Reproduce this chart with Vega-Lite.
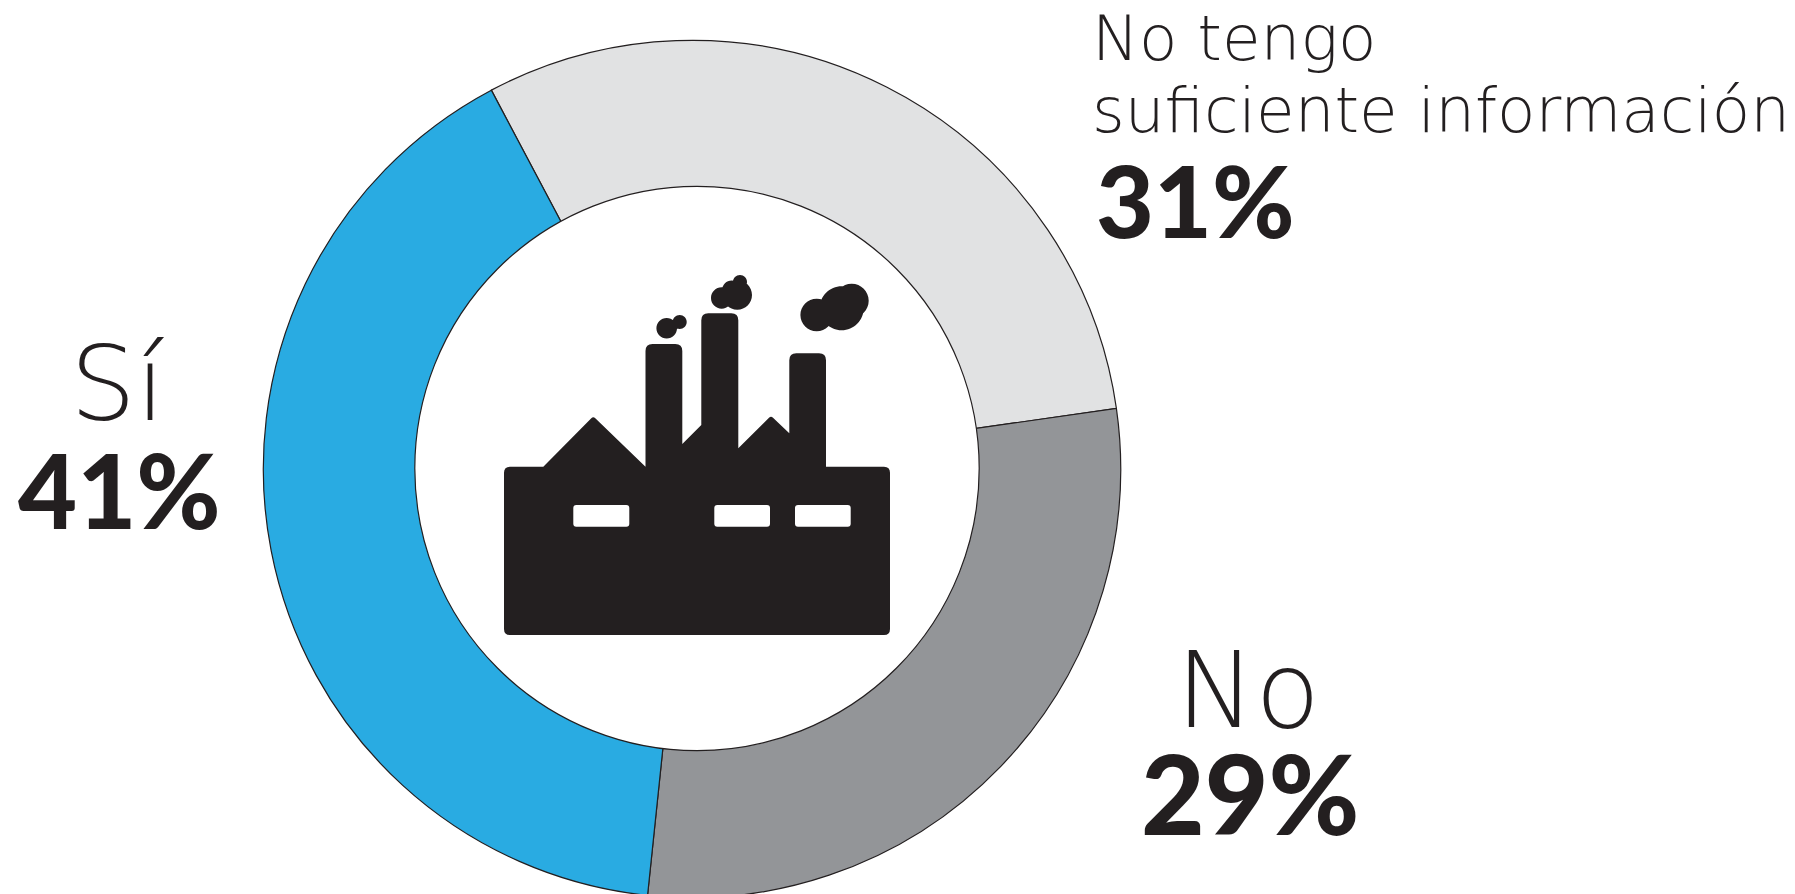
{"$schema":"https://vega.github.io/schema/vega-lite/v6.json","width":1795,"height":894,"autosize":"none","padding":0,"background":"white","config":{"view":{"stroke":null},"axis":{"disable":true}},"datasets":{"respuestas":[{"categoria":"No tengo suficiente información","etiqueta":"No tengo\nsuficiente información","valor":30.8,"porcentaje":"31%","orden":1},{"categoria":"No","etiqueta":"No","valor":29.2,"porcentaje":"29%","orden":2},{"categoria":"Sí","etiqueta":"Sí","valor":41,"porcentaje":"41%","orden":3}],"centro":[{"elemento":"fabrica"}]},"layer":[{"data":{"name":"respuestas"},"mark":{"type":"arc","outerRadius":428.7,"innerRadius":0,"stroke":"#231f20","strokeWidth":1.2},"encoding":{"x":{"value":692},"y":{"value":469},"theta":{"field":"valor","type":"quantitative","stack":true,"scale":{"range":[-0.487,5.796]}},"order":{"field":"orden","type":"quantitative"},"color":{"field":"categoria","type":"nominal","legend":null,"scale":{"domain":["No tengo suficiente información","No","Sí"],"range":["#e1e2e3","#939598","#29abe2"]}}}},{"data":{"name":"centro"},"mark":{"type":"point","shape":"circle","filled":true,"fill":"white","fillOpacity":1,"stroke":"#231f20","strokeWidth":1.2,"opacity":1,"size":318547},"encoding":{"x":{"value":697},"y":{"value":468.5}}},{"data":{"name":"centro"},"mark":{"type":"point","filled":true,"fill":"#231f20","fillOpacity":1,"opacity":1,"strokeWidth":0,"size":4,"shape":"M-187,-2.3 L-153.7,-2.3 L-105.7,-50.7 Q-103.7,-52.7 -101.7,-50.7 L-51.5,-2.3 L-51.5,-118 Q-51.5,-125 -44.5,-125 L-21.7,-125 Q-14.7,-125 -14.7,-118 L-14.7,-25 L4.3,-44 L4.3,-148.7 Q4.3,-155.7 11.3,-155.7 L34.3,-155.7 Q41.3,-155.7 41.3,-148.7 L41.3,-20.7 L72,-51.3 Q74,-53.3 76,-51.3 L92.3,-35.7 L92.3,-108.7 Q92.3,-115.7 99.3,-115.7 L122,-115.7 Q129,-115.7 129,-108.7 L129,-2.3 L187,-2.3 Q193,-2.3 193,3.7 L193,160 Q193,166 187,166 L-187,166 Q-193,166 -193,160 L-193,3.7 Q-193,-2.3 -187,-2.3 Z M-123.7,39 L-123.7,54.7 Q-123.7,57.7 -120.7,57.7 L-70.7,57.7 Q-67.7,57.7 -67.7,54.7 L-67.7,39 Q-67.7,36 -70.7,36 L-120.7,36 Q-123.7,36 -123.7,39 Z M17.3,39 L17.3,54.7 Q17.3,57.7 20.3,57.7 L70,57.7 Q73,57.7 73,54.7 L73,39 Q73,36 70,36 L20.3,36 Q17.3,36 17.3,39 Z M98,39 L98,54.7 Q98,57.7 101,57.7 L150.7,57.7 Q153.7,57.7 153.7,54.7 L153.7,39 Q153.7,36 150.7,36 L101,36 Q98,36 98,39 Z M-40.6,-140.7 A10.3,10.3 0 1 1 -20,-140.7 A10.3,10.3 0 1 1 -40.6,-140.7 Z M-24.3,-147 A7,7 0 1 1 -10.3,-147 A7,7 0 1 1 -24.3,-147 Z M14,-171 A10.7,10.7 0 1 1 35.4,-171 A10.7,10.7 0 1 1 14,-171 Z M25.6,-174 A14.7,14.7 0 1 1 55,-174 A14.7,14.7 0 1 1 25.6,-174 Z M25.2,-179 A9.5,9.5 0 1 1 44.2,-179 A9.5,9.5 0 1 1 25.2,-179 Z M36,-187 A7,7 0 1 1 50,-187 A7,7 0 1 1 36,-187 Z M103.4,-154 A16.3,16.3 0 1 1 136,-154 A16.3,16.3 0 1 1 103.4,-154 Z M122.7,-160.7 A22,22 0 1 1 166.7,-160.7 A22,22 0 1 1 122.7,-160.7 Z M137.7,-168.3 A17,17 0 1 1 171.7,-168.3 A17,17 0 1 1 137.7,-168.3 Z"},"encoding":{"x":{"value":697},"y":{"value":469}}},{"data":{"name":"respuestas"},"mark":{"type":"text","font":"DejaVu Sans","fontWeight":200,"align":"left","baseline":"alphabetic","lineBreak":"\n","lineHeight":72,"fill":"#231f20"},"encoding":{"text":{"field":"etiqueta","type":"nominal"},"x":{"field":"valor","type":"quantitative","axis":null,"scale":{"domain":[29.2,30.8,41],"range":[1176,1092,70],"zero":false,"nice":false}},"y":{"field":"valor","type":"quantitative","axis":null,"scale":{"domain":[29.2,30.8,41],"range":[727,59.5,420],"zero":false,"nice":false}},"size":{"field":"valor","type":"quantitative","legend":null,"scale":{"domain":[29.2,30.8,41],"range":[106,62.8,104],"zero":false,"nice":false}}}},{"data":{"name":"respuestas"},"mark":{"type":"text","font":"Lato","fontWeight":900,"align":"left","baseline":"alphabetic","fill":"#231f20"},"encoding":{"text":{"field":"porcentaje","type":"nominal"},"x":{"field":"valor","type":"quantitative","axis":null,"scale":{"domain":[29.2,30.8,41],"range":[1141,1096,18],"zero":false,"nice":false}},"y":{"field":"valor","type":"quantitative","axis":null,"scale":{"domain":[29.2,30.8,41],"range":[835,238,529],"zero":false,"nice":false}},"size":{"field":"valor","type":"quantitative","legend":null,"scale":{"domain":[29.2,30.8,41],"range":[110,100,102],"zero":false,"nice":false}}}}],"resolve":{"scale":{"x":"independent","y":"independent","size":"independent","color":"independent","theta":"independent"}}}
